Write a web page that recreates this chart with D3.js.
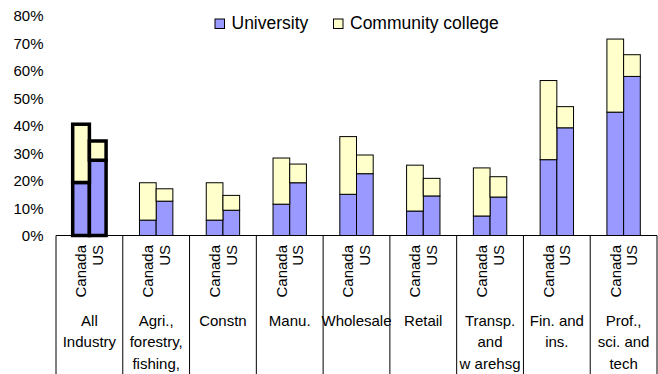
<!DOCTYPE html>
<html>
<head>
<meta charset="utf-8">
<script src="https://cdn.jsdelivr.net/npm/d3@7/dist/d3.min.js"></script>
<style>
  html, body { margin: 0; padding: 0; background: #fff; }
  svg { display: block; font-family: "Liberation Sans", Arial, sans-serif; }
</style>
</head>
<body>
<svg id="chart" width="658" height="374"></svg>
<script>
// Industry groups (multi-line labels)
const categories = [
  ["All", "Industry"],
  ["Agri.,", "forestry,", "fishing,"],
  ["Constn"],
  ["Manu."],
  ["Wholesale"],
  ["Retail"],
  ["Transp.", "and", "w arehsg"],
  ["Fin. and", "ins."],
  ["Prof.,", "sci. and", "tech"]
];
const countries = ["Canada", "US"];
const seriesNames = ["University", "Community college"];

// Share of workers (%) by highest credential
const universityCanada = [19.3, 5.6, 5.6, 11.4, 15.0, 8.9, 7.1, 27.6, 44.9];
const collegeCanada    = [21.2, 13.6, 13.6, 16.8, 21.0, 16.7, 17.5, 28.8, 26.6];
const universityUS     = [27.4, 12.5, 9.2, 19.2, 22.5, 14.4, 14.0, 39.2, 57.9];
const collegeUS        = [7.0, 4.5, 5.4, 6.8, 6.8, 6.4, 7.4, 7.7, 7.9];

const yTicks = [0, 10, 20, 30, 40, 50, 60, 70, 80];

const colors = { "University": "#9999FF", "Community college": "#FFFFCC" };

const svg = d3.select("#chart");
const plot = { left: 56, right: 657, top: 15.7, bottom: 235.5 };

const x = d3.scaleBand()
  .domain(d3.range(categories.length))
  .range([plot.left, plot.right])
  .paddingInner(0).paddingOuter(0);

const xInner = d3.scaleBand()
  .domain(countries)
  .range([x.bandwidth() / 4, x.bandwidth() * 3 / 4]);

const y = d3.scaleLinear().domain([0, 80]).range([plot.bottom, plot.top]);

// Y axis: labels only
const yAxis = svg.append("g")
  .attr("transform", `translate(43.5,0)`)
  .call(d3.axisLeft(y).tickValues(yTicks).tickSize(0).tickPadding(0).tickFormat(d => d + "%"));
yAxis.select(".domain").remove();
yAxis.selectAll("text")
  .attr("font-size", 15)
  .attr("font-family", "Liberation Sans, Arial, sans-serif")
  .attr("fill", "#000")
  .attr("dy", "0.35em");

// Stacked bars
const rows = [];
categories.forEach((c, i) => {
  rows.push({ cat: i, country: "Canada", "University": universityCanada[i], "Community college": collegeCanada[i] });
  rows.push({ cat: i, country: "US", "University": universityUS[i], "Community college": collegeUS[i] });
});
const stacked = d3.stack().keys(seriesNames)(rows);

const barsG = svg.append("g");
stacked.forEach(layer => {
  barsG.selectAll(null)
    .data(layer)
    .join("rect")
    .attr("x", d => x(d.data.cat) + xInner(d.data.country))
    .attr("width", xInner.bandwidth())
    .attr("y", d => y(d[1]))
    .attr("height", d => y(d[0]) - y(d[1]))
    .attr("fill", colors[layer.key])
    .attr("stroke", "#000")
    .attr("stroke-width", d => d.data.cat === 0 ? 3.5 : 1);
});
// keep the bold "All Industry" outlines on top
barsG.selectAll("rect").filter(d => d.data.cat === 0).raise();

// Category axis: baseline and separators
const axisG = svg.append("g");
axisG.append("line")
  .attr("x1", plot.left).attr("x2", plot.right)
  .attr("y1", plot.bottom).attr("y2", plot.bottom)
  .attr("stroke", "#000").attr("stroke-width", 1);
d3.range(categories.length + 1).forEach(i => {
  const xx = i < categories.length ? x(i) : plot.right;
  axisG.append("line")
    .attr("x1", xx).attr("x2", xx)
    .attr("y1", plot.bottom).attr("y2", 374)
    .attr("stroke", "#000").attr("stroke-width", 1);
});

// Country labels (rotated)
categories.forEach((c, i) => {
  countries.forEach(cn => {
    const cx = x(i) + xInner(cn) + xInner.bandwidth() / 2;
    axisG.append("text")
      .attr("transform", `translate(${cx},245) rotate(-90)`)
      .attr("text-anchor", "end")
      .attr("dy", "0.35em")
      .attr("font-size", 15)
      .text(cn);
  });
  // Industry name
  const t = axisG.append("text")
    .attr("text-anchor", "middle")
    .attr("font-size", 15);
  c.forEach((line, j) => {
    t.append("tspan")
      .attr("x", x(i) + x.bandwidth() / 2)
      .attr("y", 320.7 + j * 21.3)
      .attr("dy", "0.35em")
      .text(line);
  });
});

// Legend
const legend = svg.append("g");
const legendX = [215, 333.5];
seriesNames.forEach((s, i) => {
  legend.append("rect")
    .attr("x", legendX[i]).attr("y", 19)
    .attr("width", 9.5).attr("height", 9.5)
    .attr("fill", colors[s]).attr("stroke", "#000").attr("stroke-width", 1);
  legend.append("text")
    .attr("x", legendX[i] + 16.5).attr("y", 29.3)
    .attr("font-size", 17.5)
    .text(s);
});
</script>
</body>
</html>
